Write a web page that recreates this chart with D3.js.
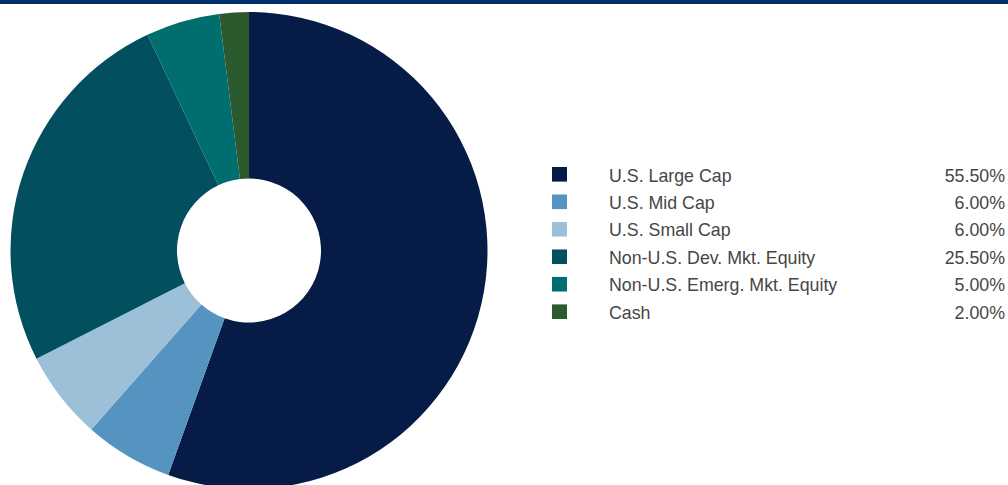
<!DOCTYPE html>
<html>
<head>
<meta charset="utf-8">
<script src="https://cdn.jsdelivr.net/npm/d3@7"></script>
<style>
  body { margin: 0; background: #fff; }
  svg { display: block; }
  text { font-family: "Liberation Sans", Arial, sans-serif; font-size: 17.8px; }
</style>
</head>
<body>
<div id="chart"></div>
<script>
// Allocation data
var categories = ["U.S. Large Cap", "U.S. Mid Cap", "U.S. Small Cap",
                  "Non-U.S. Dev. Mkt. Equity", "Non-U.S. Emerg. Mkt. Equity", "Cash"];
var weights = [55.5, 6.0, 6.0, 25.5, 5.0, 2.0];
var colors = ["#061c47", "#5593c0", "#9cc0d7", "#02505f", "#006e6e", "#2b5a2f"];

var width = 1008, height = 485;

var svg = d3.select("#chart").append("svg")
    .attr("width", width)
    .attr("height", height);

// top rule
svg.append("rect")
    .attr("x", 0).attr("y", 0)
    .attr("width", width).attr("height", 4)
    .attr("fill", "#002f6c");

var data = categories.map(function(c, i) {
    return { name: c, value: weights[i], color: colors[i] };
});

// Donut
var cx = 249, cy = 250.5, outerR = 238.5, innerR = 72;

var pie = d3.pie()
    .sort(null)
    .value(function(d) { return d.value; });

var arc = d3.arc()
    .innerRadius(innerR)
    .outerRadius(outerR);

var g = svg.append("g")
    .attr("transform", "translate(" + cx + "," + cy + ")");

g.selectAll("path")
    .data(pie(data))
    .enter().append("path")
    .attr("d", arc)
    .attr("fill", function(d) { return d.data.color; });

// Legend
var y = d3.scalePoint()
    .domain(categories)
    .range([174.3, 311.7]);

var legend = svg.selectAll("g.legend")
    .data(data)
    .enter().append("g")
    .attr("class", "legend")
    .attr("transform", function(d) { return "translate(0," + y(d.name) + ")"; });

legend.append("rect")
    .attr("x", 552).attr("y", -7.3)
    .attr("width", 15).attr("height", 14.6)
    .attr("fill", function(d) { return d.color; });

legend.append("text")
    .attr("x", 609)
    .attr("y", 1)
    .attr("dy", "0.35em")
    .attr("fill", "#464646")
    .text(function(d) { return d.name; });

legend.append("text")
    .attr("x", 1005)
    .attr("y", 1)
    .attr("dy", "0.35em")
    .attr("text-anchor", "end")
    .attr("fill", "#464646")
    .text(function(d) { return d3.format(".2f")(d.value) + "%"; });
</script>
</body>
</html>
